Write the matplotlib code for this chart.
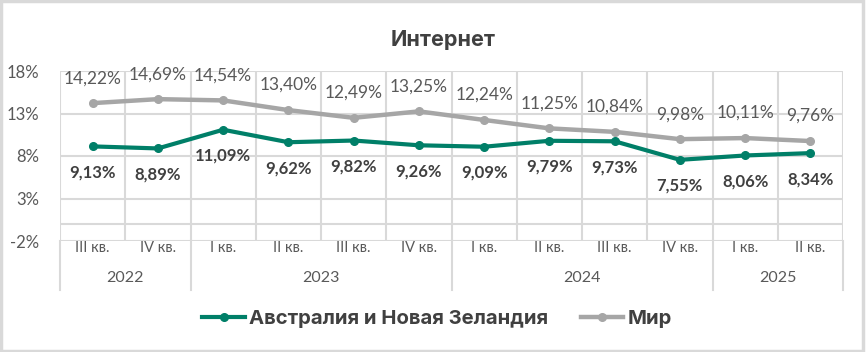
import matplotlib.pyplot as plt
from matplotlib.lines import Line2D
from matplotlib.patches import Rectangle
import matplotlib.transforms as mtransforms

quarters = ["III кв.", "IV кв.", "I кв.", "II кв.", "III кв.", "IV кв.",
            "I кв.", "II кв.", "III кв.", "IV кв.", "I кв.", "II кв."]
years = ["2022", "2023", "2024", "2025"]
year_counts = [2, 4, 4, 2]
anz = [9.13, 8.89, 11.09, 9.62, 9.82, 9.26, 9.09, 9.79, 9.73, 7.55, 8.06, 8.34]
world = [14.22, 14.69, 14.54, 13.40, 12.49, 13.25, 12.24, 11.25, 10.84, 9.98, 10.11, 9.76]

green = "#007F68"
gray = "#A6A6A6"
grid_c = "#D9D9D9"
txt = "#595959"
dark = "#404040"

W, H = 868, 352
fig = plt.figure(figsize=(W / 100, H / 100), dpi=100)
ax = fig.add_axes([60 / W, 1 - 241 / H, (843 - 60) / W, (241 - 71) / H])

x = list(range(len(quarters)))
ax.plot(x, world, color=gray, lw=3.2, marker="o", ms=5.5, zorder=3, clip_on=False)
ax.plot(x, anz, color=green, lw=3.0, marker="o", ms=5.5, zorder=4, clip_on=False)

for i, v in enumerate(world):
    ax.annotate(f"{v:.2f}%".replace(".", ","), (i, v), xytext=(0, 25), textcoords="offset pixels",
                ha="center", va="center", fontsize=12.5, color=txt, family="Lato")
for i, v in enumerate(anz):
    ax.annotate(f"{v:.2f}%".replace(".", ","), (i, v), xytext=(0, -26), textcoords="offset pixels",
                ha="center", va="center", fontsize=12, color=dark, family="Lato", fontweight="bold")

ax.set_xlim(-0.5, len(quarters) - 0.5)
ax.set_ylim(-2, 18)
ax.set_yticks([-2, 3, 8, 13, 18])
ax.set_yticklabels(["-2%", "3%", "8%", "13%", "18%"], family="Lato", fontsize=12, color=txt)
ax.set_xticks([])
ax.set_xticks([i - 0.5 for i in range(len(quarters) + 1)], minor=True)
ax.tick_params(axis="y", length=0, pad=15)
ax.tick_params(axis="x", which="both", length=0)
ax.grid(True, axis="y", color=grid_c, lw=1.5)
ax.grid(True, axis="x", which="minor", color=grid_c, lw=1.5)
ax.axhline(0, color=grid_c, lw=1.5, zorder=1)
for s in ax.spines.values():
    s.set_visible(False)
ax.set_axisbelow(True)

# multi-level category axis
trans = mtransforms.blended_transform_factory(ax.transData, ax.transAxes)
for i, q in enumerate(quarters):
    ax.text(i, -7 / 170, q, transform=trans, ha="center", va="center",
            fontsize=10.5, color=txt, family="Lato")
start = 0
bounds = [0]
for yname, n in zip(years, year_counts):
    ax.text(start + (n - 1) / 2, -37 / 170, yname, transform=trans, ha="center", va="center",
            fontsize=11.5, color=txt, family="Lato")
    start += n
    bounds.append(start)
for b in bounds:
    ax.plot([b - 0.5, b - 0.5], [0, -49 / 170], transform=trans, color=grid_c, lw=1.5, clip_on=False)

fig.text(443 / W, 1 - 40 / H, "Интернет", ha="center", va="center", fontsize=15.5,
         fontweight="bold", color=dark, family="Inter")

handles = [Line2D([], [], color=green, lw=3.0, marker="o", ms=5.5),
           Line2D([], [], color=gray, lw=3.2, marker="o", ms=5.5)]
fig.legend(handles, ["Австралия и Новая Зеландия", "Мир"], loc="center",
           bbox_to_anchor=(437 / W, 1 - 319 / H), ncol=2, frameon=False,
           prop={"family": "Inter", "weight": "bold", "size": 14.6}, labelcolor=dark,
           handlelength=2.1, handletextpad=0.2, columnspacing=1.6)

fig.patches.append(Rectangle((0.0015, 0.003), 0.993, 0.994, transform=fig.transFigure,
                             fill=False, edgecolor=grid_c, lw=2.5))

fig.savefig("out.png", dpi=100)
